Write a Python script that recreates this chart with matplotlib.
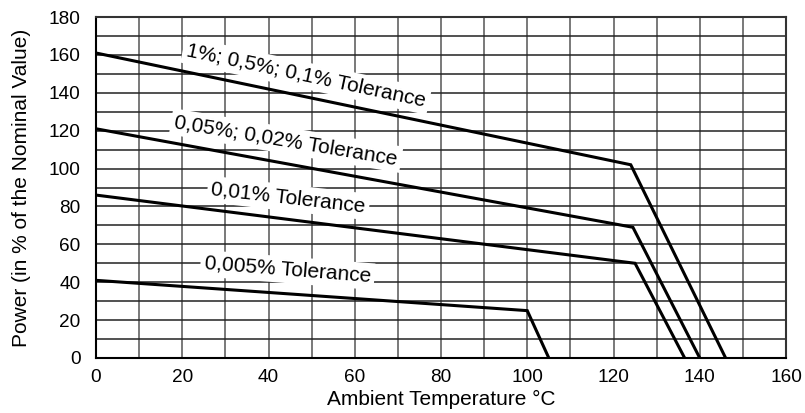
import matplotlib
matplotlib.use("Agg")
import matplotlib.pyplot as plt

# Derating curves: (temperature, power %) break points
temp_1 = [0, 124, 146]
power_1 = [161, 102, 0]
temp_2 = [0, 124.5, 140]
power_2 = [121, 69, 0]
temp_3 = [0, 125, 136.5]
power_3 = [86, 50, 0]
temp_4 = [0, 100, 105]
power_4 = [41, 25, 0]

labels = ["1%; 0,5%; 0,1% Tolerance", "0,05%; 0,02% Tolerance",
          "0,01% Tolerance", "0,005% Tolerance"]
label_x = [48.7, 44.1, 44.6, 44.4]
label_y = [149, 114.8, 84.5, 46.5]
label_rot = [-12, -9.5, -6.5, -4.5]

x_ticks = [0, 20, 40, 60, 80, 100, 120, 140, 160]
y_ticks = [0, 20, 40, 60, 80, 100, 120, 140, 160, 180]

plt.rcParams['font.family'] = ['Liberation Sans', 'DejaVu Sans']

fig = plt.figure(figsize=(8.05, 4.13), dpi=100)
ax = fig.add_axes([96 / 805, 1 - 358 / 413, 690 / 805, 341 / 413])

# grid every 10 units
for v in range(10, 160, 10):
    ax.axvline(v, color='#555555', lw=1.1, zorder=1)
for v in range(10, 180, 10):
    ax.axhline(v, color='#222222', lw=1.1, zorder=1)

for t, p in [(temp_1, power_1), (temp_2, power_2), (temp_3, power_3), (temp_4, power_4)]:
    ax.plot(t, p, color='black', lw=2.2, zorder=4, solid_joinstyle='miter')

for txt, x, y, r in zip(labels, label_x, label_y, label_rot):
    ax.text(x, y, txt, fontsize=15, rotation=r, rotation_mode='anchor',
            ha='center', va='center', zorder=3,
            bbox=dict(boxstyle='square,pad=0.18', fc='white', ec='none'))

ax.set_xlim(0, 160)
ax.set_ylim(0, 180)
ax.set_xticks(x_ticks)
ax.set_yticks(y_ticks)
ax.tick_params(length=0, labelsize=13.7, colors='black')
ax.tick_params(axis='x', pad=8)
ax.tick_params(axis='y', pad=11)
for s in ax.spines.values():
    s.set_color('#333333')
    s.set_linewidth(1.5)
ax.spines['left'].set_color('black')
ax.spines['bottom'].set_color('black')

ax.set_xlabel('Ambient Temperature °C', fontsize=15, labelpad=3)
ax.set_ylabel('Power (in % of the Nominal Value)', fontsize=15, labelpad=13)

fig.savefig('out.png', dpi=100)
